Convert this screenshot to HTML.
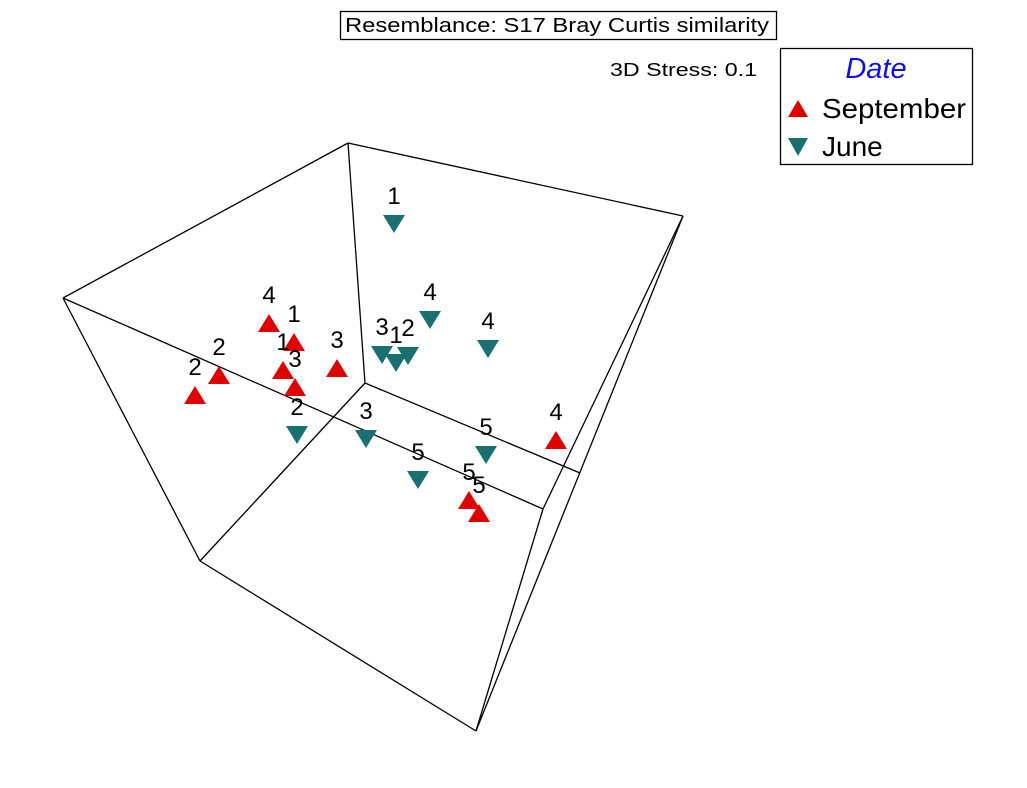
<!DOCTYPE html>
<html>
<head>
<meta charset="utf-8">
<style>
  html,body{margin:0;padding:0;background:#fff;}
  svg{display:block;}
  text{font-family:"Liberation Sans",Arial,sans-serif;}
</style>
</head>
<body>
<svg id="chart" width="1027" height="788" viewBox="0 0 1027 788">
  <rect x="0" y="0" width="1027" height="788" fill="#fff"/>
  <g>
    <rect x="340.5" y="11.5" width="436" height="28" fill="#fff" stroke="#000" stroke-width="1.3"/>
    <text x="345" y="32" font-size="20" fill="#000" textLength="424" lengthAdjust="spacingAndGlyphs">Resemblance: S17 Bray Curtis similarity</text>
  </g>
  <text x="610" y="76" font-size="18" fill="#000" textLength="147" lengthAdjust="spacingAndGlyphs">3D Stress: 0.1</text>
  <g>
    <rect x="780.5" y="48.5" width="192" height="116" fill="#fff" stroke="#000" stroke-width="1.3"/>
    <text x="876" y="78" font-size="29" font-style="italic" fill="#1010dd" text-anchor="middle">Date</text>
    <polygon points="788,117 808,117 798,100" fill="#e00000"/>
    <text x="822" y="118" font-size="28" fill="#000" textLength="144" lengthAdjust="spacingAndGlyphs">September</text>
    <polygon points="788,138 808,138 798,156" fill="#1a7070"/>
    <text x="822" y="156" font-size="28" fill="#000">June</text>
  </g>
  <g id="cube" stroke="#000" stroke-width="1.3" fill="none"></g>
  <g id="points"></g>
</svg>
<script>
// MDS projected coordinates (display units)
const sepX = [26.9, 29.4, 28.3, 29.5, 33.7, 21.9, 19.5, 55.6, 46.9, 47.9];
const sepY = [32.3, 34.2, 37.0, 38.7, 36.8, 37.5, 39.5, 44.0, 50.0, 51.3];
const sepLabels = ["4","1","1","3","3","2","2","4","5","5"];
const junX = [39.4, 43.0, 48.8, 38.2, 39.6, 40.8, 29.7, 36.6, 41.8, 48.6];
const junY = [22.4, 32.0, 34.9, 35.5, 36.3, 35.6, 43.5, 43.9, 48.0, 45.5];
const junLabels = ["1","4","4","3","1","2","2","3","5","5"];
// cube frame vertices (display units) and edges
const cubeVX = [6.3, 34.8, 68.3, 47.6, 20.0, 36.5, 54.3, 58.0];
const cubeVY = [29.8, 14.3, 21.6, 73.1, 56.1, 38.3, 50.9, 47.3];
const cubeEdges = [[0,1],[1,2],[2,3],[3,4],[4,0],[1,5],[5,4],[5,7],[0,6],[6,3],[2,6]];

const xScale = v => v * 10;
const yScale = v => v * 10;
const NS = "http://www.w3.org/2000/svg";

const cube = document.getElementById("cube");
cubeEdges.forEach((e, i) => {
  const l = document.createElementNS(NS, "line");
  l.setAttribute("x1", xScale(cubeVX[e[0]]));
  l.setAttribute("y1", yScale(cubeVY[e[0]]));
  l.setAttribute("x2", xScale(cubeVX[e[1]]));
  l.setAttribute("y2", yScale(cubeVY[e[1]]));
  
  
  cube.appendChild(l);
});

const pts = document.getElementById("points");
function addPoint(x, y, label, up, color, name) {
  const cx = xScale(x), cy = yScale(y);
  const p = document.createElementNS(NS, "polygon");
  const pp = up
    ? `${cx-11},${cy+9} ${cx+11},${cy+9} ${cx},${cy-9}`
    : `${cx-11},${cy-9} ${cx+11},${cy-9} ${cx},${cy+9}`;
  p.setAttribute("points", pp);
  p.setAttribute("fill", color);
  
  
  pts.appendChild(p);
  const t = document.createElementNS(NS, "text");
  t.setAttribute("x", cx);
  t.setAttribute("y", cy - 20);
  t.setAttribute("font-size", "24");
  t.setAttribute("text-anchor", "middle");
  t.setAttribute("fill", "#000");
  t.textContent = label;
  
  
  pts.appendChild(t);
}
junX.forEach((x, i) => addPoint(x, junY[i], junLabels[i], false, "#1a7070", "june-point"));
sepX.forEach((x, i) => addPoint(x, sepY[i], sepLabels[i], true, "#e00000", "september-point"));
</script>
</body>
</html>
